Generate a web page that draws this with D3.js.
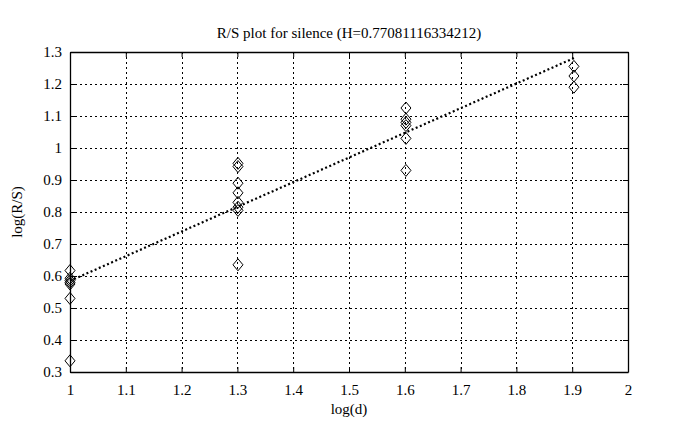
<!DOCTYPE html>
<html><head><meta charset="utf-8">
<script src="https://cdn.jsdelivr.net/npm/d3@7"></script>
<style>body{margin:0;background:#fff}svg{display:block}text{font-family:"Liberation Serif","DejaVu Serif",serif;fill:#000}</style>
</head><body><svg id="c" width="678" height="430"></svg>
<script>
const title = "R/S plot for silence (H=0.77081116334212)";
const xLabel = "log(d)";
const yLabel = "log(R/S)";
const xTicks = [1,1.1,1.2,1.3,1.4,1.5,1.6,1.7,1.8,1.9,2];
const yTicks = [0.3,0.4,0.5,0.6,0.7,0.8,0.9,1,1.1,1.2,1.3];
const xTickLabels = ["1","1.1","1.2","1.3","1.4","1.5","1.6","1.7","1.8","1.9","2"];
const yTickLabels = ["0.3","0.4","0.5","0.6","0.7","0.8","0.9","1","1.1","1.2","1.3"];
const logD = [1,1,1,1,1,1,1,
  1.30103,1.30103,1.30103,1.30103,1.30103,1.30103,1.30103,1.30103,
  1.60206,1.60206,1.60206,1.60206,1.60206,1.60206,
  1.90309,1.90309,1.90309];
const logRS = [0.617,0.593,0.586,0.58,0.575,0.53,0.335,
  0.952,0.942,0.89,0.86,0.83,0.815,0.805,0.635,
  1.125,1.09,1.08,1.07,1.03,0.93,
  1.255,1.225,1.19];
const H = 0.77081116334212;
const fitIntercept = -0.186;
const fitX = [1, 1.90309];

const svg = d3.select("#c");
const L=70, R=628, T=52, B=372;
const x = d3.scaleLinear().domain([1,2]).range([L,R]);
const y = d3.scaleLinear().domain([0.3,1.3]).range([B,T]);

// grid
const g = svg.append("g");
g.selectAll(".gx").data(xTicks.slice(1,-1)).enter().append("line")
 .attr("x1",d=>Math.round(x(d))+0.5).attr("x2",d=>Math.round(x(d))+0.5).attr("y1",T).attr("y2",B)
 .attr("stroke","#000").attr("stroke-width",1).attr("stroke-dasharray","2,3");
g.selectAll(".gy").data(yTicks.slice(1,-1)).enter().append("line")
 .attr("y1",d=>Math.round(y(d))+0.5).attr("y2",d=>Math.round(y(d))+0.5).attr("x1",L).attr("x2",R)
 .attr("stroke","#000").attr("stroke-width",1).attr("stroke-dasharray","2,3");

// axes
const fmtX = (d,i)=>xTickLabels[i], fmtY=(d,i)=>yTickLabels[i];
svg.append("g").attr("transform",`translate(0,${B})`)
 .call(d3.axisBottom(x).tickValues(xTicks).tickFormat(fmtX).tickSizeInner(-5).tickSizeOuter(0).tickPadding(12));
svg.append("g").attr("transform",`translate(0,${T})`)
 .call(d3.axisTop(x).tickValues(xTicks).tickFormat("").tickSizeInner(-5).tickSizeOuter(0));
svg.append("g").attr("transform",`translate(${L},0)`)
 .call(d3.axisLeft(y).tickValues(yTicks).tickFormat(fmtY).tickSizeInner(-5).tickSizeOuter(0).tickPadding(8));
svg.append("g").attr("transform",`translate(${R},0)`)
 .call(d3.axisRight(y).tickValues(yTicks).tickFormat("").tickSizeInner(-5).tickSizeOuter(0));
svg.selectAll(".domain").attr("stroke","#000").attr("stroke-width",1.3);
svg.selectAll(".tick line").attr("stroke","#000");
svg.selectAll(".tick text").attr("font-size",15).attr("font-family","Liberation Serif");

// fit line
svg.append("line")
 .attr("x1",x(fitX[0])).attr("y1",y(fitIntercept+H*fitX[0]))
 .attr("x2",x(fitX[1])).attr("y2",y(fitIntercept+H*fitX[1]))
 .attr("stroke","#000").attr("stroke-width",2.2).attr("stroke-dasharray","2,2.5");

// markers
const pts = logD.map((d,i)=>[d,logRS[i]]);
svg.selectAll(".m").data(pts).enter().append("path")
 .attr("d",d=>{const cx=x(d[0]),cy=y(d[1]),w=5,h=6;return `M${cx},${cy-h}L${cx+w},${cy}L${cx},${cy+h}L${cx-w},${cy}Z`;})
 .attr("fill","none").attr("stroke","#000").attr("stroke-width",1);

// labels
svg.append("text").attr("x",(L+R)/2).attr("y",38).attr("text-anchor","middle").attr("font-size",15).text(title);
svg.append("text").attr("x",(L+R)/2).attr("y",414).attr("text-anchor","middle").attr("font-size",15).text(xLabel);
svg.append("text").attr("transform",`translate(22,${(T+B)/2}) rotate(-90)`).attr("text-anchor","middle").attr("font-size",15).text(yLabel);
</script></body></html>
